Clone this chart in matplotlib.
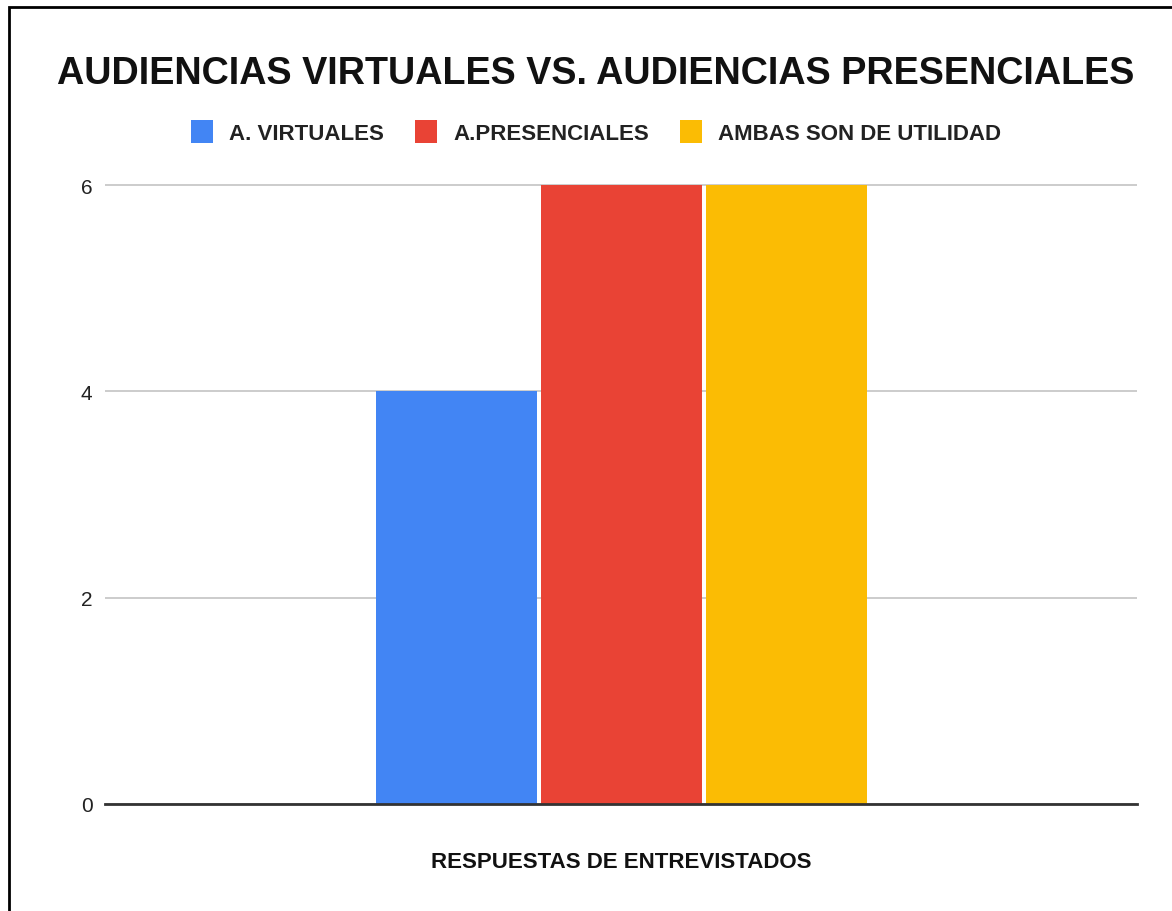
import matplotlib.pyplot as plt
from matplotlib.patches import Rectangle, Patch

plt.rcParams['font.family'] = ['Liberation Sans', 'DejaVu Sans']

# ---------------- Data ----------------
categories = ['']
series_names = ['A. VIRTUALES', 'A.PRESENCIALES', 'AMBAS SON DE UTILIDAD']
series_values = [4, 6, 6]
series_colors = ['#4285F4', '#E94335', '#FBBC04']
y_ticks = [0, 2, 4, 6]

# ---------------- Figure ----------------
W, H = 1172, 912
fig = plt.figure(figsize=(W / 100, H / 100), dpi=100)

# pixel helpers (top-left origin)
def fx(px):
    return px / W

def fy(py):
    return 1 - py / H

y0_px, y6_px = 805, 186
unit = (y0_px - y6_px) / 6
ytop = 6.05
top_px = y0_px - ytop * unit
ax = fig.add_axes([fx(105), fy(y0_px), fx(1137) - fx(105), (y0_px - top_px) / H])

bar_w = 161 / 1032
step = 165 / 1032
for i, (name, val, col) in enumerate(zip(series_names, series_values, series_colors)):
    ax.bar((i - 1) * step, val, width=bar_w, color=col, zorder=3, linewidth=0)

ax.set_xlim(-0.5, 0.5)
ax.set_ylim(0, ytop)
ax.set_yticks(y_ticks)
ax.set_yticklabels([str(t) for t in y_ticks], fontsize=15, color='#222222')
ax.set_xticks([0])
ax.set_xticklabels(categories)
ax.tick_params(axis='y', length=0, pad=9)
ax.tick_params(axis='x', length=0, pad=0)
ax.grid(axis='y', color='#cccccc', linewidth=1.4, zorder=0)
for s in ['top', 'right', 'left']:
    ax.spines[s].set_visible(False)
ax.spines['bottom'].set_color('#333333')
ax.spines['bottom'].set_linewidth(2)
ax.spines['bottom'].set_zorder(4)

ax.set_xlabel('RESPUESTAS DE ENTREVISTADOS', fontsize=16, fontweight='bold',
              color='#111111', labelpad=34)

# title
fig.text(fx(596), fy(74), 'AUDIENCIAS VIRTUALES VS. AUDIENCIAS PRESENCIALES',
         ha='center', va='center', fontsize=27.2, fontweight='bold', color='#111111')

# legend
handles = [Patch(facecolor=c, edgecolor='none') for c in series_colors]
fig.legend(handles, series_names, loc='center', bbox_to_anchor=(fx(596), fy(133)),
           ncol=3, frameon=False, prop={'size': 16, 'weight': 'bold'},
           handlelength=1.0, handleheight=1.2, handletextpad=0.72,
           columnspacing=1.4, labelcolor='#222222')

# outer border (cropped on right and bottom)
fig.patches.append(Rectangle((fx(9), fy(H + 10)), 1.5, fy(8) - fy(H + 10),
                             transform=fig.transFigure, fill=False,
                             edgecolor='black', linewidth=2))

fig.savefig('out.png', dpi=100)
